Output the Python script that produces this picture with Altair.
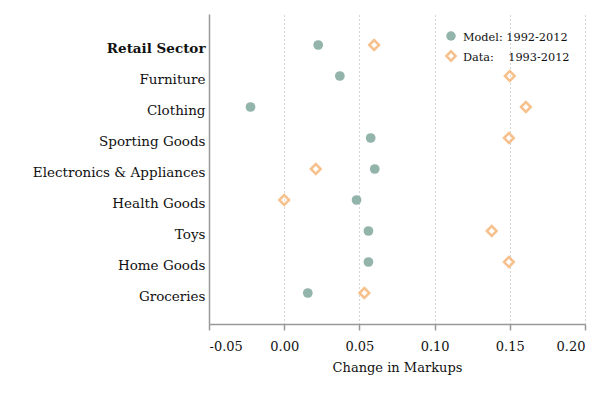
import altair as alt
import pandas as pd

sectors = ["Retail Sector", "Furniture", "Clothing", "Sporting Goods",
           "Electronics & Appliances", "Health Goods", "Toys", "Home Goods", "Groceries"]
model_vals = [0.0226, 0.0370, -0.0224, 0.0575, 0.0602, 0.0481, 0.0560, 0.0560, 0.0157]
data_vals = [0.0598, 0.1500, 0.1607, 0.1494, 0.0210, 0.0000, 0.1380, 0.1494, 0.0533]
x_ticks = [-0.05, 0.0, 0.05, 0.10, 0.15, 0.20]

FONT = "DejaVu Serif"

model_df = pd.DataFrame({"sector": sectors, "value": model_vals})
data_df = pd.DataFrame({"sector": sectors, "value": data_vals})

x_enc = alt.X("value:Q",
              scale=alt.Scale(domain=[-0.05, 0.20], nice=False, zero=False),
              axis=alt.Axis(values=x_ticks,
                            labelExpr="datum.value < 0 ? '-' + format(-datum.value, '.2f') : format(datum.value, '.2f')",
                            title="Change in Markups",
                            grid=True, gridDash=[1, 3], gridColor="#aaaaaa",
                            domainColor="#999999", domainWidth=1.5,
                            tickColor="#999999", tickWidth=1.5, tickSize=6,
                            labelFont=FONT, labelFontSize=13, labelColor="#111",
                            titleFont=FONT, titleFontSize=13, titleFontWeight="normal",
                            titleColor="#111", labelPadding=10, titlePadding=8))
y_enc = alt.Y("sector:N", sort=sectors,
              scale=alt.Scale(type="point", padding=1),
              axis=alt.Axis(title=None, ticks=False, grid=False,
                            domainColor="#999999", domainWidth=1.5,
                            labelFont=FONT, labelFontSize=13.5, labelColor="#111",
                            labelPadding=4, labelOffset=3,
                            labelFontWeight=alt.ExprRef("datum.value == 'Retail Sector' ? 'bold' : 'normal'")))

model = alt.Chart(model_df).mark_point(shape="circle", filled=True, size=95,
                                       color="#93b4aa", opacity=1).encode(x=x_enc, y=y_enc)
data = alt.Chart(data_df).mark_point(shape="diamond", filled=False, size=95,
                                     color="#f7c18e", strokeWidth=2.5, opacity=1).encode(x="value:Q", y=alt.Y("sector:N", sort=sectors))

leg_model = alt.Chart(pd.DataFrame({"a": [0]})).mark_point(
    shape="circle", filled=True, size=90, color="#93b4aa", opacity=1).encode(
    x=alt.value(242), y=alt.value(22))
leg_data = alt.Chart(pd.DataFrame({"a": [0]})).mark_point(
    shape="diamond", filled=False, size=85, color="#f7c18e", strokeWidth=2.5, opacity=1).encode(
    x=alt.value(242), y=alt.value(42))
leg_t1 = alt.Chart(pd.DataFrame({"t": ["Model: 1992-2012"]})).mark_text(
    align="left", baseline="middle", font=FONT, fontSize=11.3, color="#111").encode(
    x=alt.value(254), y=alt.value(24), text="t:N")
leg_t2 = alt.Chart(pd.DataFrame({"t": ["Data:\u00a0\u00a0\u00a0\u00a01993-2012"]})).mark_text(
    align="left", baseline="middle", font=FONT, fontSize=11.3, color="#111").encode(
    x=alt.value(254), y=alt.value(44), text="t:N")

chart = alt.layer(model, data, leg_model, leg_data, leg_t1, leg_t2).properties(
    width=376, height=310,
    padding={"left": 24, "top": 6, "right": 5, "bottom": 5}
).configure_view(stroke=None)

chart.save("out.html", embed_options={"renderer": "svg", "actions": False})
